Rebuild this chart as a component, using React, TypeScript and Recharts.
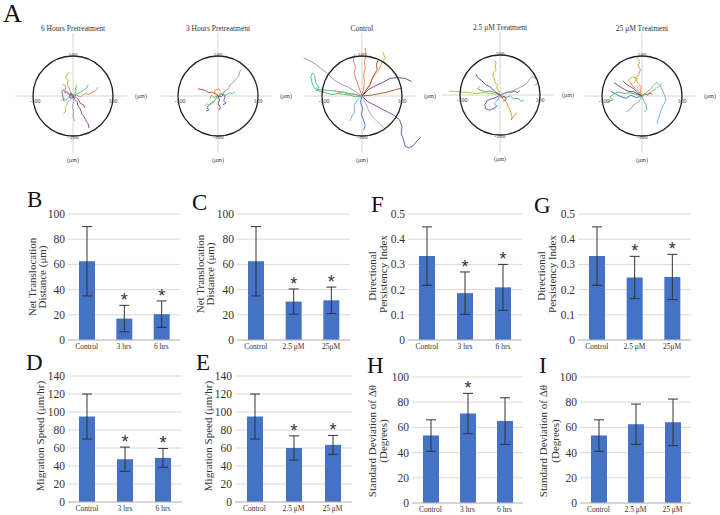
import React from "react";
import {
  BarChart,
  Bar,
  XAxis,
  YAxis,
  CartesianGrid,
  ErrorBar,
  LabelList,
  LineChart,
  Line,
  ReferenceDot,
  ReferenceLine,
} from "recharts";

// ── Panel A: cell tracks (μm) ──────────────────────────────────

type Pt = [number, number];

const trackColors = [
  "#7b3f9e", "#e8892b", "#3a6fc4", "#4caf50", "#d9a520", "#3fb0b0",
  "#a8c040", "#999999", "#c0392b", "#5a3c9a", "#5ab4c8", "#e07070",
  "#a0522d", "#b39ddb",
];

const sixHourTracks: Pt[][] = [
  [[0, 0], [4, -8], [10, -14], [12, -24], [18, -32], [22, -45], [28, -52], [32, -62], [38, -70], [40, -80]],
  [[0, 0], [10, 2], [18, -2], [26, 4], [34, 6], [40, 4], [48, 10], [55, 12], [60, 18], [62, 22]],
  [[0, 0], [-8, 4], [-14, 10], [-20, 8], [-24, 16], [-28, 12], [-26, 2], [-24, -8], [-22, -14]],
  [[0, 0], [4, 6], [8, 12], [6, 20], [10, 24], [6, 28]],
  [[0, 0], [-6, 10], [-10, 20], [-14, 30], [-12, 40], [-18, 46], [-14, 56], [-8, 60]],
  [[0, 0], [10, 6], [20, 10], [28, 16], [34, 20], [38, 28]],
  [[0, 0], [-6, -8], [-12, -14], [-16, -24], [-20, -30], [-18, -38], [-24, -44]],
  [[0, 0], [2, -14], [-2, -26], [2, -38], [0, -50], [4, -62]],
  [[0, 0], [8, -4], [14, -10], [18, -18], [26, -22], [30, -30]],
  [[0, 0], [-6, 4], [-10, -2], [-4, -6], [2, -2], [-2, 4], [-8, 8]],
  [[0, 0], [-10, -4], [-18, -10], [-24, -6], [-30, -12]],
  [[0, 0], [-12, 4], [-20, 14], [-18, 24], [-26, 30]],
];

const threeHourTracks: Pt[][] = [
  [[0, 0], [8, -2], [14, 4], [18, -4], [14, -12], [20, -18], [12, -22]],
  [[0, 0], [-4, 6], [-10, 10], [-6, 16], [2, 18], [6, 12]],
  [[0, 0], [-6, -8], [-12, -14], [-18, -18], [-24, -24], [-28, -30], [-22, -34], [-30, -38]],
  [[0, 0], [-10, -4], [-16, 2], [-20, -6]],
  [[0, 0], [6, 8], [12, 4], [16, 10], [20, 14]],
  [[0, 0], [10, 4], [20, 2], [28, 8], [36, 6], [42, 10]],
  [[0, 0], [-12, -16], [-20, -22], [-28, -20], [-34, -26]],
  [[0, 0], [10, 6], [18, 12], [26, 18], [30, 28], [40, 36], [46, 44], [52, 50], [54, 60], [58, 66]],
  [[0, 0], [-8, 6], [-16, 10], [-24, 8], [-32, 14], [-40, 16], [-50, 18]],
  [[0, 0], [4, -10], [0, -20], [6, -28], [2, -36]],
];

const controlTracks: Pt[][] = [
  [[0, 0], [14, -14], [30, -22], [48, -32], [64, -40], [80, -48], [94, -60], [100, -76], [98, -94], [104, -110], [108, -126], [118, -130], [128, -124], [138, -112], [146, -104]],
  [[0, 0], [4, 18], [6, 36], [4, 54], [8, 70], [6, 88], [10, 104], [8, 120]],
  [[0, 0], [-4, -16], [2, -32], [-2, -46], [4, -60], [8, -74], [4, -86]],
  [[0, 0], [-16, -2], [-30, 2], [-46, 4], [-60, 6], [-76, 4], [-92, 8], [-104, 12], [-116, 14]],
  [[0, 0], [-10, 2], [-22, 6], [-34, 4], [-46, 10], [-58, 8], [-70, 14]],
  [[0, 0], [-20, 4], [-40, 8], [-62, 12], [-84, 14], [-104, 16], [-118, 18], [-124, 30], [-128, 48], [-124, 58], [-118, 50], [-116, 34], [-108, 22], [-112, 14]],
  [[0, 0], [20, 30], [28, 50], [40, 60], [48, 80], [58, 94], [52, 110]],
  [[0, 0], [-18, 12], [-34, 22], [-52, 30], [-70, 40], [-86, 56], [-104, 70], [-120, 82], [-134, 90], [-146, 96]],
  [[0, 0], [10, 14], [20, 28], [26, 44], [32, 56], [38, 66], [36, 80], [42, 92]],
  [[0, 0], [16, 16], [34, 26], [52, 34], [70, 44], [90, 46], [108, 44], [124, 36]],
  [[0, 0], [-12, -10], [-20, -24], [-18, -40], [-26, -52], [-30, -62]],
  [[0, 0], [-8, 22], [-14, 40], [-20, 56], [-16, 72], [-22, 90], [-18, 104]],
  [[0, 0], [22, 2], [44, 6], [64, 10], [84, 16], [100, 20]],
  [[0, 0], [10, -20], [18, -40], [30, -56], [44, -70], [56, -80]],
];

const lowDoseTracks: Pt[][] = [
  [[0, 0], [-10, -6], [-22, -10], [-32, -14], [-38, -24], [-36, -34], [-26, -38], [-14, -32], [-6, -26]],
  [[0, 0], [8, -10], [16, -18], [20, -28], [26, -40], [30, -54], [28, -62], [36, -52], [42, -44]],
  [[0, 0], [10, 4], [20, 8], [28, 6], [36, 10], [44, 6], [50, 12]],
  [[0, 0], [-12, 6], [-24, 10], [-36, 8], [-48, 12], [-56, 16], [-50, 22]],
  [[0, 0], [-4, 10], [-8, 18], [-6, 26], [-12, 30], [-14, 40], [-18, 48], [-16, 56], [-10, 62], [-12, 72], [-10, 80], [-14, 88]],
  [[0, 0], [14, -6], [26, -2], [34, -10], [46, -8], [52, -16], [60, -12]],
  [[0, 0], [-20, 4], [-40, 6], [-60, 4], [-80, 6], [-100, 8], [-128, 10]],
  [[0, 0], [12, 4], [24, 8], [36, 12], [48, 18], [60, 24], [68, 30], [74, 40], [82, 46], [92, 40], [96, 30], [86, 24]],
  [[0, 0], [4, -6], [12, -4], [16, -12], [8, -16]],
  [[0, 0], [-14, 10], [-24, 20], [-36, 26], [-46, 36], [-56, 44], [-60, 52]],
  [[0, 0], [-6, -14], [-14, -20], [-8, -30], [-18, -36]],
];

const highDoseTracks: Pt[][] = [
  [[0, 0], [-10, 8], [-20, 18], [-30, 24], [-40, 30], [-48, 38]],
  [[0, 0], [-4, 10], [-2, 22], [-10, 32], [-16, 44], [-8, 54], [-4, 66], [-10, 76], [-6, 86], [-12, 96]],
  [[0, 0], [-14, -4], [-28, 2], [-40, -6], [-52, -2], [-64, 4], [-78, 12]],
  [[0, 0], [-16, 4], [-30, 8], [-44, 6], [-58, 10], [-70, 6], [-80, -2], [-72, -10], [-86, -14]],
  [[0, 0], [-10, 14], [-22, 24], [-34, 40], [-24, 48], [-12, 44], [-20, 32]],
  [[0, 0], [4, -12], [10, -22], [12, -34], [6, -40]],
  [[0, 0], [14, 6], [26, 12], [36, 20], [44, 24], [50, 32]],
  [[0, 0], [-8, -14], [-20, -22], [-30, -34], [-40, -40]],
  [[0, 0], [6, 6], [14, 2], [20, 8], [26, 4]],
  [[0, 0], [-20, 10], [-36, 12], [-50, 20], [-62, 28], [-70, 34]],
  [[0, 0], [10, 8], [20, 16], [28, 26], [36, 34], [44, 28], [50, 16], [56, 4], [60, -10], [54, -22], [48, -34], [44, -48], [40, -60], [38, -70]],
];

// ── Panels B–I: bar data ───────────────────────────────────────

const pretreatCats = ["Control", "3 hrs", "6 hrs"];
const treatCatsC = ["Control", "2.5 μM", "25μM"];
const treatCatsE = ["Control", "2.5 μM", "25 μM"];

const netDistPre = [62.5, 17, 20.5];
const netDistPreErr = [27.5, 10.5, 10.5];
const netDistTreat = [62.5, 30.5, 31.5];
const netDistTreatErr = [27.5, 10, 10.5];

const speedPre = [95, 47.5, 49];
const speedPreErr = [25, 13.5, 10.5];
const speedTreat = [95, 60, 63.5];
const speedTreatErr = [25, 13.5, 10.5];

const dpiPre = [0.333, 0.186, 0.209];
const dpiPreErr = [0.116, 0.084, 0.091];
const dpiTreat = [0.333, 0.248, 0.25];
const dpiTreatErr = [0.116, 0.084, 0.09];

const sdPre = [53.5, 71, 65];
const sdPreErr = [12.5, 16, 18.5];
const sdTreat = [53.5, 62.5, 64];
const sdTreatErr = [12.5, 16, 18.5];

const sigB = [false, true, true];
const sigH = [false, true, false];
const sigNone = [false, false, false];

const ticks100 = [0, 20, 40, 60, 80, 100];
const ticks140 = [0, 20, 40, 60, 80, 100, 120, 140];
const ticksDpi = [0, 0.1, 0.2, 0.3, 0.4, 0.5];

const SERIF = "'Liberation Serif', 'Times New Roman', serif";
const BAR_BLUE = "#4472C4";

// ── Track plot ─────────────────────────────────────────────────

const SIZE = 170;
const SPAN = 425; // μm across the plot, 2.5 μm per px
const HALF = SPAN / 2;
const R = (100 * SIZE) / SPAN;

function textAt(label: string, size: number, color = "#444") {
  return (p: any) => (
    <text
      x={p.cx}
      y={p.cy}
      textAnchor="middle"
      dominantBaseline="central"
      fontSize={size}
      fontFamily={SERIF}
      fill={color}
    >
      {label}
    </text>
  );
}

function TrackPlot({ title, tracks, cx, cy }: { title: string; tracks: Pt[][]; cx: number; cy: number }) {
  return (
    <div style={{ position: "absolute", left: cx - SIZE / 2, top: cy - SIZE / 2 }}>
      <LineChart width={SIZE} height={SIZE} margin={{ top: 0, right: 0, bottom: 0, left: 0 }}>
        <XAxis type="number" dataKey="x" domain={[-HALF, HALF]} hide allowDataOverflow />
        <YAxis type="number" domain={[-HALF, HALF]} hide allowDataOverflow />
        <ReferenceLine segment={[{ x: -145, y: 0 }, { x: 135, y: 0 }]} stroke="#d4d4d4" />
        <ReferenceLine segment={[{ x: 0, y: -142 }, { x: 0, y: 157 }]} stroke="#d4d4d4" />
        {tracks.map((t, i) => (
          <Line
            key={i}
            data={t.map(([x, y]) => ({ x, y }))}
            dataKey="y"
            stroke={trackColors[i % trackColors.length]}
            strokeWidth={0.9}
            dot={false}
            isAnimationActive={false}
          />
        ))}
        <ReferenceDot x={0} y={0} r={R} fill="none" stroke="#222" strokeWidth={1.3} />
        <ReferenceDot x={0} y={170} r={0} shape={textAt(title, 7.5, "#333")} />
        <ReferenceDot x={0} y={102} r={0} shape={textAt("100", 6)} />
        <ReferenceDot x={0} y={-102} r={0} shape={textAt("-100", 6)} />
        <ReferenceDot x={-95} y={-12} r={0} shape={textAt("-100", 6)} />
        <ReferenceDot x={100} y={-12} r={0} shape={textAt("100", 6)} />
        <ReferenceDot x={170} y={0} r={0} shape={textAt("(μm)", 6)} />
        <ReferenceDot x={0} y={-160} r={0} shape={textAt("(μm)", 6)} />
      </LineChart>
    </div>
  );
}

// ── Bar panel ──────────────────────────────────────────────────

const YW = 30;
const MT = 8;
const XH = 12;

const yTick = (p: any) => (
  <text x={p.x} y={p.y} textAnchor="end" dominantBaseline="central" fontSize={11.5} fontFamily={SERIF} fill="#333">
    {p.payload.value}
  </text>
);

const xTick = (p: any) => (
  <text x={p.x} y={p.y} textAnchor="middle" dominantBaseline="hanging" fontSize={7.5} fontFamily={SERIF} fill="#333">
    {p.payload.value}
  </text>
);

function BarPanel({
  cats, values, errs, sig, ticks, plotLeft, plotTop, plotW, plotH,
}: {
  cats: string[]; values: number[]; errs: number[]; sig: boolean[]; ticks: number[];
  plotLeft: number; plotTop: number; plotW: number; plotH: number;
}) {
  const data = cats.map((name, i) => ({ name, value: values[i], err: errs[i] }));
  const star = (p: any) => {
    if (!sig[p.index]) return null;
    const errPx = (errs[p.index] * p.height) / values[p.index];
    return (
      <text
        x={p.x + p.width / 2}
        y={p.y - errPx + 1}
        textAnchor="middle"
        fontSize={18}
        fontFamily="'Liberation Sans', Arial, sans-serif"
        fill="#333"
      >
        *
      </text>
    );
  };
  return (
    <div style={{ position: "absolute", left: plotLeft - YW, top: plotTop - MT, fontFamily: SERIF }}>
      <BarChart
        width={YW + plotW + 2}
        height={MT + plotH + XH}
        data={data}
        margin={{ top: MT, right: 2, bottom: 0, left: 0 }}
      >
        <CartesianGrid vertical={false} stroke="#d9d9d9" />
        <XAxis
          dataKey="name"
          height={XH}
          interval={0}
          tickLine={false}
          axisLine={{ stroke: "#bfbfbf" }}
          tickSize={0}
          tickMargin={3}
          tick={xTick}
        />
        <YAxis
          width={YW}
          domain={[ticks[0], ticks[ticks.length - 1]]}
          ticks={ticks}
          interval={0}
          tickLine={false}
          axisLine={false}
          tickSize={0}
          tickMargin={3}
          tick={yTick}
        />
        <Bar dataKey="value" fill={BAR_BLUE} barSize={16} isAnimationActive={false}>
          <ErrorBar dataKey="err" width={5} stroke="#333" strokeWidth={1} direction="y" />
          <LabelList dataKey="value" content={star} />
        </Bar>
      </BarChart>
    </div>
  );
}

// ── Letters and axis titles ────────────────────────────────────

const letters: [string, number, number, number][] = [
  ["A", 3, 22, 26],
  ["B", 27, 207, 23],
  ["C", 192, 210, 23],
  ["F", 371, 212, 23],
  ["G", 534, 213, 23],
  ["D", 26, 370, 23],
  ["E", 196, 370, 23],
  ["H", 367, 373, 23],
  ["I", 539, 373, 23],
];

const yTitles: [string, number, number][] = [
  ["Net Translocation", 32, 277],
  ["Distance (μm)", 42, 277],
  ["Net Translocation", 200, 274],
  ["Distance (μm)", 210, 274],
  ["Directional", 372, 276],
  ["Persistency Index", 383, 274],
  ["Directional", 541, 276],
  ["Persistency Index", 552, 274],
  ["Migration Speed (μm/hr)", 40, 436],
  ["Migration Speed (μm/hr)", 208, 436],
  ["Standard Deviation of Δθ", 372, 441],
  ["(Degrees)", 383, 441],
  ["Standard Deviation of Δθ", 543, 441],
  ["(Degrees)", 555, 441],
];

export default function App() {
  return (
    <div style={{ position: "absolute", left: 0, top: 0, width: 720, height: 515, background: "#fff", overflow: "hidden" }}>
      <TrackPlot title="6 Hours Pretreatment" tracks={sixHourTracks} cx={73} cy={96} />
      <TrackPlot title="3 Hours Pretreatment" tracks={threeHourTracks} cx={218} cy={96} />
      <TrackPlot title="Control" tracks={controlTracks} cx={362} cy={96} />
      <TrackPlot title="2.5 μM Treatment" tracks={lowDoseTracks} cx={500} cy={95} />
      <TrackPlot title="25 μM Treatment" tracks={highDoseTracks} cx={642} cy={96} />

      <BarPanel cats={pretreatCats} values={netDistPre} errs={netDistPreErr} sig={sigB} ticks={ticks100} plotLeft={68} plotTop={214} plotW={112} plotH={126} />
      <BarPanel cats={treatCatsC} values={netDistTreat} errs={netDistTreatErr} sig={sigB} ticks={ticks100} plotLeft={237} plotTop={214} plotW={113} plotH={126} />
      <BarPanel cats={pretreatCats} values={dpiPre} errs={dpiPreErr} sig={sigB} ticks={ticksDpi} plotLeft={408} plotTop={214} plotW={114} plotH={126} />
      <BarPanel cats={treatCatsC} values={dpiTreat} errs={dpiTreatErr} sig={sigB} ticks={ticksDpi} plotLeft={578} plotTop={214} plotW={113} plotH={126} />
      <BarPanel cats={pretreatCats} values={speedPre} errs={speedPreErr} sig={sigB} ticks={ticks140} plotLeft={68} plotTop={376} plotW={114} plotH={126} />
      <BarPanel cats={treatCatsE} values={speedTreat} errs={speedTreatErr} sig={sigB} ticks={ticks140} plotLeft={235} plotTop={376} plotW={117} plotH={126} />
      <BarPanel cats={pretreatCats} values={sdPre} errs={sdPreErr} sig={sigH} ticks={ticks100} plotLeft={412} plotTop={377} plotW={111} plotH={126} />
      <BarPanel cats={treatCatsE} values={sdTreat} errs={sdTreatErr} sig={sigNone} ticks={ticks100} plotLeft={580} plotTop={377} plotW={111} plotH={126} />

      <svg width={720} height={515} style={{ position: "absolute", left: 0, top: 0, pointerEvents: "none" }}>
        {letters.map(([l, x, y, s]) => (
          <text key={l} x={x} y={y} fontSize={s} fontFamily={SERIF} fill="#111">
            {l}
          </text>
        ))}
        {yTitles.map(([t, x, y], i) => (
          <text
            key={i}
            x={x}
            y={y}
            transform={`rotate(-90 ${x} ${y})`}
            textAnchor="middle"
            dominantBaseline="central"
            fontSize={11}
            fontFamily={SERIF}
            fill="#333"
          >
            {t}
          </text>
        ))}
      </svg>
    </div>
  );
}
